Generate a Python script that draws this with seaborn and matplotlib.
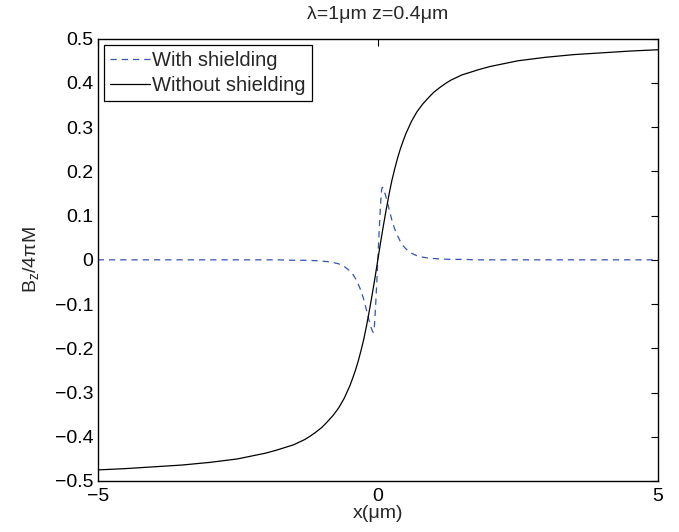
import matplotlib
matplotlib.use("Agg")
import matplotlib.pyplot as plt
import seaborn as sns
import pandas as pd

# Values
x_without = [-5.0, -4.5, -4.0, -3.5, -3.0, -2.5, -2.0, -1.8, -1.5, -1.3, -1.2, -1.1, -1.0, -0.9, -0.8,
             -0.7, -0.6, -0.5, -0.45, -0.4, -0.35, -0.3, -0.25, -0.2, -0.15, -0.1, -0.05, 0.0,
             0.05, 0.1, 0.15, 0.2, 0.25, 0.3, 0.35, 0.4, 0.45, 0.5, 0.6, 0.7, 0.8, 0.9, 1.0,
             1.1, 1.2, 1.3, 1.5, 1.8, 2.0, 2.5, 3.0, 3.5, 4.0, 4.5, 5.0]
y_without = [-0.475, -0.472, -0.468, -0.464, -0.458, -0.450, -0.437, -0.430, -0.418, -0.406, -0.398,
             -0.389, -0.379, -0.366, -0.352, -0.335, -0.313, -0.285, -0.268, -0.250, -0.229, -0.205,
             -0.179, -0.148, -0.114, -0.078, -0.040, 0.000,
             0.040, 0.078, 0.114, 0.148, 0.179, 0.205, 0.229, 0.250, 0.268, 0.285, 0.313, 0.335,
             0.352, 0.366, 0.379, 0.389, 0.398, 0.406, 0.418, 0.430, 0.437, 0.450, 0.458, 0.464,
             0.468, 0.472, 0.475]

x_with = [-5.0, -3.0, -2.0, -1.8, -1.5, -1.3, -1.1, -1.0, -0.9, -0.8, -0.7, -0.6, -0.5, -0.45, -0.4,
          -0.35, -0.3, -0.25, -0.2, -0.17, -0.14, -0.12, -0.1, -0.09, -0.08, -0.07, -0.06, -0.04,
          -0.02, 0.0, 0.02, 0.04, 0.06, 0.07, 0.08, 0.09, 0.1, 0.12, 0.14, 0.17, 0.2, 0.25, 0.3,
          0.35, 0.4, 0.45, 0.5, 0.6, 0.7, 0.8, 0.9, 1.0, 1.1, 1.3, 1.5, 1.8, 2.0, 3.0, 5.0]
y_with = [0.0, 0.0, 0.0, 0.0, -0.001, -0.001, -0.002, -0.003, -0.004, -0.006, -0.009, -0.015, -0.025,
          -0.032, -0.042, -0.055, -0.070, -0.090, -0.115, -0.130, -0.145, -0.153, -0.160, -0.163,
          -0.164, -0.160, -0.148, -0.105, -0.054, 0.0, 0.054, 0.105, 0.148, 0.160, 0.164, 0.163,
          0.160, 0.153, 0.145, 0.130, 0.115, 0.090, 0.070, 0.055, 0.042, 0.032, 0.025, 0.015,
          0.009, 0.006, 0.004, 0.003, 0.002, 0.001, 0.001, 0.0, 0.0, 0.0, 0.0]

series_names = ["With shielding", "Without shielding"]
x_ticks = [-5, 0, 5]
x_ticklabels = ["\u22125", "0", "5"]
y_ticks = [-0.5, -0.4, -0.3, -0.2, -0.1, 0, 0.1, 0.2, 0.3, 0.4, 0.5]
y_ticklabels = ["\u22120.5", "\u22120.4", "\u22120.3", "\u22120.2", "\u22120.1", "0",
                "0.1", "0.2", "0.3", "0.4", "0.5"]

sns.set_style("white")
plt.rcParams["font.family"] = ["Liberation Sans", "DejaVu Sans"]
plt.rcParams["mathtext.fontset"] = "custom"
plt.rcParams["mathtext.rm"] = "Liberation Sans"
plt.rcParams["mathtext.it"] = "Liberation Sans"
plt.rcParams["mathtext.default"] = "regular"

FS = 14

df_with = pd.DataFrame({"x": x_with, "y": y_with})
df_without = pd.DataFrame({"x": x_without, "y": y_without})

fig = plt.figure(figsize=(6.79, 5.32), dpi=100)
ax = fig.add_axes([0.1439, 0.0959, 0.9690 - 0.1439, 0.9273 - 0.0959])

sns.lineplot(data=df_with, x="x", y="y", ax=ax, color="#3355b0", lw=0.9,
             label=series_names[0], sort=False, estimator=None)
ax.lines[-1].set_dashes([5.0, 4.0])
sns.lineplot(data=df_without, x="x", y="y", ax=ax, color="black", lw=0.9,
             label=series_names[1], sort=False, estimator=None)

ax.set_xlim(-5, 5)
ax.set_ylim(-0.5, 0.5)
ax.set_xticks(x_ticks)
ax.set_xticklabels(x_ticklabels)
ax.set_yticks(y_ticks)
ax.set_yticklabels(y_ticklabels)
ax.tick_params(direction="in", length=5, width=0.8, top=True, right=True,
               labelsize=FS, colors="black")
ax.tick_params(axis="y", pad=3)
ax.tick_params(axis="x", pad=5)
for s in ax.spines.values():
    s.set_visible(True)
    s.set_color("black")
    s.set_linewidth(1.0)

ax.set_xlabel("x(\u03bcm)", fontsize=FS, labelpad=0)
ax.set_ylabel("B$_z$/4\u03c0M", fontsize=FS, labelpad=10)
ax.set_title("\u03bb=1\u03bcm z=0.4\u03bcm", fontsize=FS, pad=14)

leg = ax.legend(loc="upper left", fontsize=14.5, frameon=True, fancybox=False,
                handlelength=2.0, handletextpad=0.1, borderpad=0.3, labelspacing=0.3,
                borderaxespad=0.3)
leg.get_frame().set_edgecolor("black")
leg.get_frame().set_linewidth(0.9)
leg.get_frame().set_alpha(1)

fig.savefig("out.png", dpi=100)
